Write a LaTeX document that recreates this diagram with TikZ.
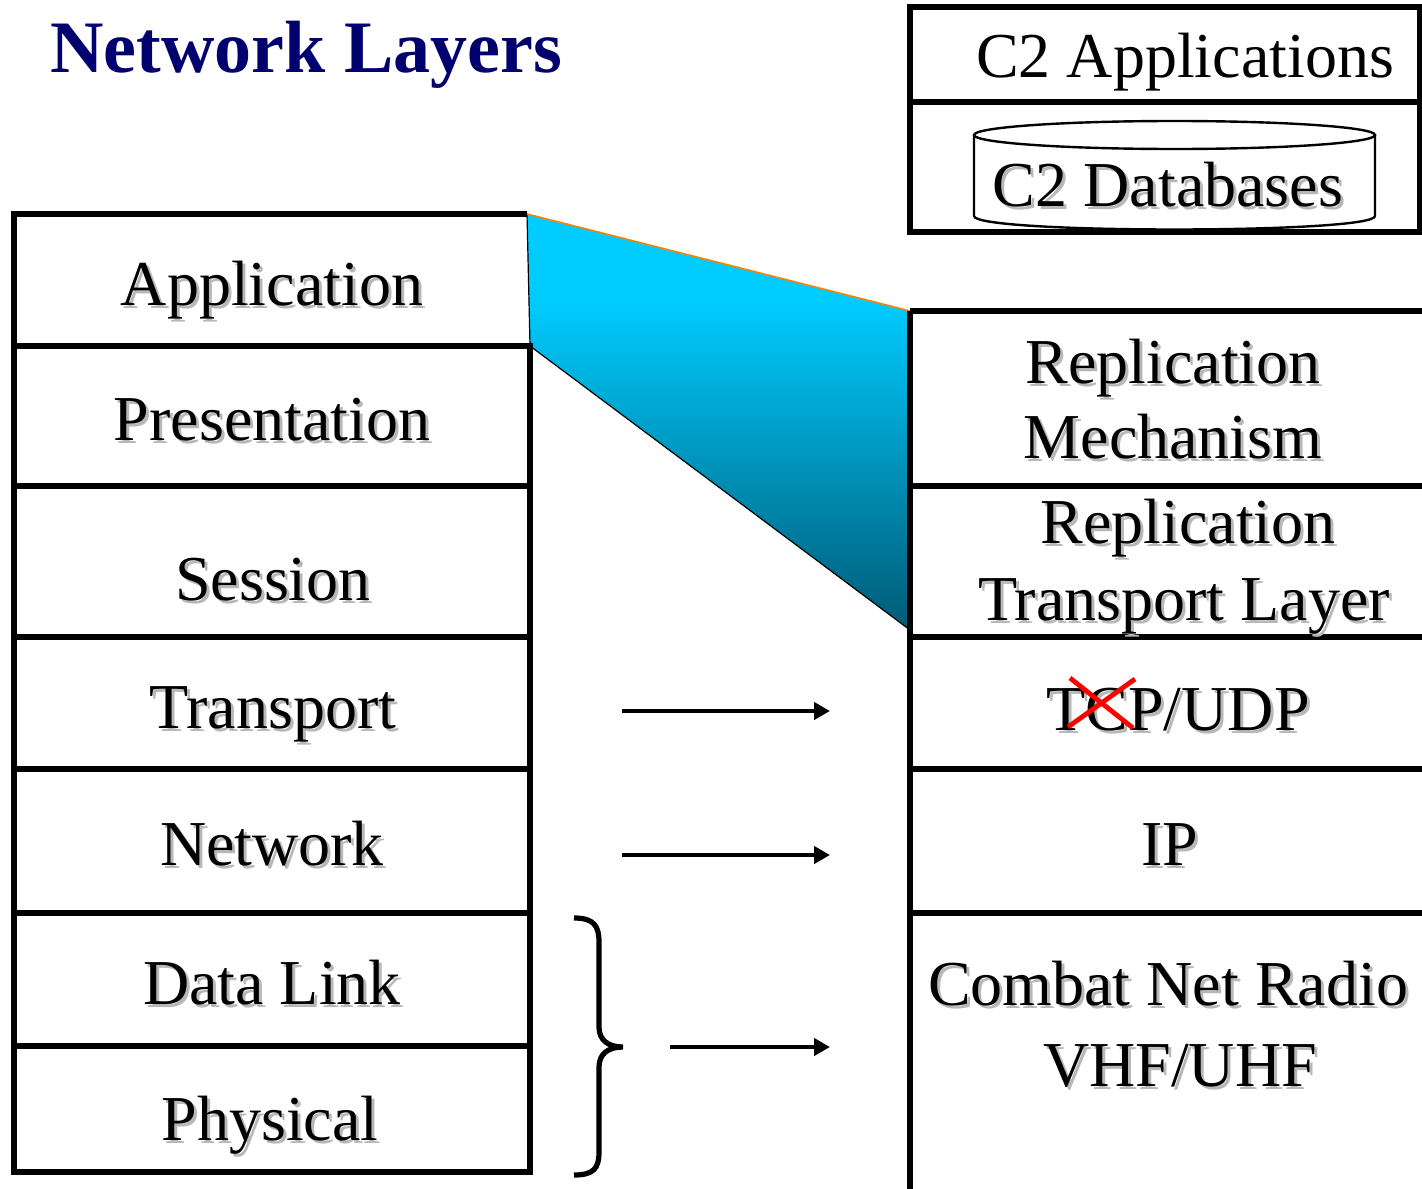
\documentclass[tikz,border=0pt]{standalone}
\usepackage{fontspec}
\setmainfont{Liberation Serif}
\usetikzlibrary{arrows.meta}

\definecolor{titleblue}{RGB}{0,0,110}
\definecolor{funneltop}{RGB}{0,204,255}
\definecolor{funnelmid}{RGB}{0,172,214}
\definecolor{funnelbot}{RGB}{0,90,118}

\tikzset{
  layertext/.style={font=\fontsize{32}{38}\selectfont, anchor=base, inner sep=0pt},
  layershadow/.style={layertext, text=black!28, xshift=1.5pt, yshift=-1.5pt},
  boxline/.style={line width=2.6pt},
  maparrow/.style={line width=2.2pt, -{Triangle[length=8pt,width=8.5pt]}}
}
\newcommand\layerlabel[3]{%
  \node[layershadow] at (#2) {#3};
  \node[layertext] (#1) at (#2) {#3};}

\begin{document}
\begin{tikzpicture}[x=0.5pt,y=-0.5pt]
\useasboundingbox (0,0) rectangle (1422,1188);

\node[font=\bfseries\fontsize{37}{40}\selectfont, text=titleblue,
      anchor=base west, inner sep=0pt] (title) at (50,73) {Network Layers};

% zoom wedge from Application to the replication layers
\begin{scope}
\clip (527,214) -- (910,311) -- (910,630) -- (530,346) -- cycle;
\fill[funneltop] (520,205) rectangle (915,301);
\shade[top color=funneltop, middle color=funnelmid, bottom color=funnelbot]
  (520,300) rectangle (915,632);
\end{scope}
\draw[line width=0.6pt] (910,311) -- (910,630) -- (530,346) -- (527,214);
\draw[orange, line width=0.8pt] (527,214) -- (910,311);

% OSI stack
\draw[boxline] (527,214) -- (14,214) -- (14,1172) -- (530,1172) -- (530,346) -- (14,346);
\foreach \y in {486,637,769,913,1046}
  \draw[boxline] (14,\y) -- (530,\y);

% radio stack
\draw[boxline] (910,311) -- (910,1192);
\foreach \y in {311,486,637,769,913}
  \draw[boxline] (910,\y) -- (1430,\y);

% C2 box with database
\draw[boxline] (910,7) rectangle (1420,232);
\draw[boxline] (910,102) -- (1420,102);
\draw[line width=1.2pt] (974,135) -- (974,216)
  .. controls (974,234) and (1375,234) .. (1375,216) -- (1375,135);
\draw[line width=1.2pt] (1174.5,135) ellipse [x radius=200.5, y radius=14];

\layerlabel{app}{272,305}{Application}
\layerlabel{pres}{272,440}{Presentation}
\layerlabel{sess}{273,600}{Session}
\layerlabel{trans}{273,728}{Transport}
\layerlabel{net}{272,865}{Network}
\layerlabel{dlink}{272,1004}{Data Link}
\layerlabel{phys}{270,1140}{Physical}

\layerlabel{replA}{1173,383}{Replication}
\layerlabel{mech}{1173,458}{Mechanism}
\layerlabel{replB}{1188,543}{Replication}
\layerlabel{rtl}{1184,620}{Transport Layer}
\layerlabel{tcpudp}{1178,730}{TCP/UDP}
\layerlabel{ip}{1170,865}{IP}
\layerlabel{cnr}{1168,1005}{Combat Net Radio}
\layerlabel{vhf}{1180,1086}{VHF/UHF}
\node[layertext] (c2app) at (1185,78) {C2 Applications};
\layerlabel{c2db}{1168,206}{C2 Databases}

% TCP struck out
\draw[red, line width=2.4pt] (1070,678) -- (1133,728) (1068,727) -- (1135,679);

% brace over data link and physical
\draw[line width=2.6pt] (574,918) .. controls (594,918) and (599,926) .. (599,942)
  -- (599,1027) .. controls (599,1040) and (608,1047) .. (623,1047)
  .. controls (608,1047) and (599,1054) .. (599,1067)
  -- (599,1152) .. controls (599,1168) and (594,1175) .. (574,1175);

\coordinate (transFrom) at (622,711);
\coordinate (transTo) at (830,711);
\coordinate (netFrom) at (622,855);
\coordinate (netTo) at (830,855);
\coordinate (linkFrom) at (670,1047);
\coordinate (linkTo) at (830,1047);
\draw[maparrow] (transFrom) -- (transTo);
\draw[maparrow] (netFrom) -- (netTo);
\draw[maparrow] (linkFrom) -- (linkTo);
\end{tikzpicture}
\end{document}
